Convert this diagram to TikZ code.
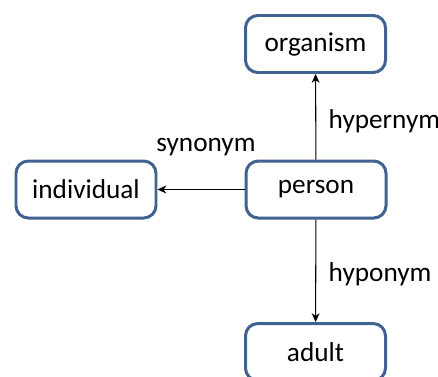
\documentclass[tikz,border=0pt]{standalone}
\usepackage{fontspec}
\setmainfont{Carlito}
\usetikzlibrary{arrows.meta, positioning}
\definecolor{boxcolor}{RGB}{64, 98, 142}

\begin{document}
\begin{tikzpicture}[
    >={Stealth[length=5pt, width=4.5pt, inset=1.5pt]},
    concept/.style={rectangle, rounded corners=7pt, draw=boxcolor, line width=1.7pt, fill=white, minimum width=2.8cm, minimum height=1.14cm, align=center, font=\fontsize{15.5}{18}\selectfont},
    arrow/.style={->, line width=0.6pt},
    label/.style={font=\fontsize{15.5}{18}\selectfont}
]

\useasboundingbox (0, 0) rectangle (8.76, 7.52);

% Concepts
\node[concept] (organism) at (6.31, 6.64) {organism};
\node[concept] (person) at (6.32, 3.73) {person};
\node[concept] (individual) at (1.72, 3.73) {individual};
\node[concept] (adult) at (6.31, 0.48) {adult};

% Relations
\draw[arrow] (person) -- (organism);
\draw[arrow] (person) -- (individual);
\draw[arrow] (person) -- (adult);

\node[label, anchor=west] (hyper) at (6.45, 5.1) {hypernym};
\node[label] (syn) at (4.12, 4.58) {synonym};
\node[label, anchor=west] (hypo) at (6.45, 2.04) {hyponym};

\end{tikzpicture}
\end{document}
